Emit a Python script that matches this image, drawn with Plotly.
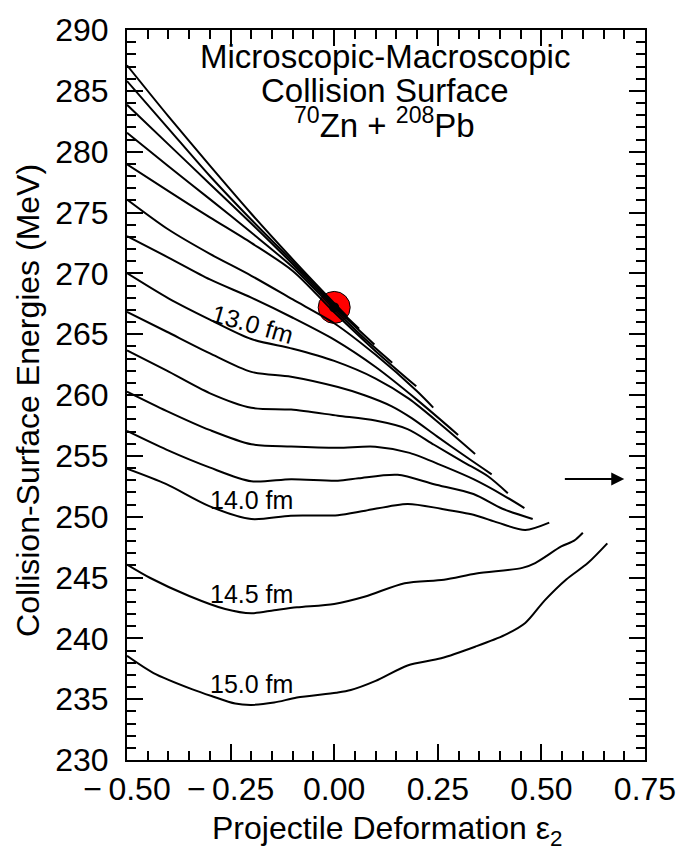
import plotly.graph_objects as go

# ---------------- data ----------------
# collision-surface energy curves: projectile deformation eps2 vs energy (MeV)
curve01_x = [-0.5, -0.4, -0.3, -0.2, -0.1, 0.0, 0.03]
curve01_E = [287.1, 282.9, 278.85, 274.9, 271.15, 267.55, 266.5]
curve02_x = [-0.5, -0.4, -0.3, -0.2, -0.1, 0.0, 0.06]
curve02_E = [285.8, 281.9, 278.0, 274.4, 270.95, 267.4, 265.45]
curve03_x = [-0.5, -0.4, -0.3, -0.2, -0.1, 0.0, 0.097]
curve03_E = [283.85, 280.6, 277.35, 274.1, 270.75, 267.25, 264.15]
curve04_x = [-0.5, -0.4, -0.3, -0.2, -0.1, 0.0, 0.07, 0.14]
curve04_E = [281.55, 278.8, 276.1, 273.35, 270.5, 267.05, 264.75, 262.66]
curve05_x = [-0.5, -0.4, -0.3, -0.2, -0.1, 0.0, 0.1, 0.198]
curve05_E = [278.96, 276.75, 274.6, 272.5, 270.2, 266.8, 263.6, 260.71]
curve06_x = [-0.5, -0.4, -0.3, -0.2, -0.1, 0.0, 0.1, 0.2, 0.239]
curve06_E = [276.07, 273.6, 271.6, 269.8, 267.85, 265.9, 263.3, 260.3, 258.96]
curve07_x = [-0.5, -0.4, -0.3, -0.2, -0.1, 0.0, 0.1, 0.2, 0.299]
curve07_E = [273.05, 271.3, 269.5, 268.0, 266.35, 264.55, 262.3, 259.6, 256.72]
curve08_x = [-0.5, -0.4, -0.3, -0.2, -0.1, 0.0, 0.1, 0.18, 0.26, 0.34]
curve08_E = [270.02, 267.95, 266.2, 264.6, 263.8, 262.8, 261.35, 259.7, 257.5, 255.16]
curve09_x = [-0.5, -0.405, -0.301, -0.2, -0.104, 0.009, 0.075, 0.139, 0.187, 0.248, 0.319, 0.38]
curve09_E = [266.84, 265.22, 263.44, 261.9, 261.5, 260.65, 259.96, 259.07, 258.1, 256.6, 254.9, 253.48]
curve10_x = [-0.5, -0.405, -0.301, -0.2, -0.104, 0.009, 0.099, 0.177, 0.241, 0.312, 0.371, 0.419]
curve10_E = [263.66, 262.02, 260.16, 258.95, 258.8, 258.3, 257.9, 257.2, 255.91, 254.49, 253.32, 251.93]
curve11_x = [-0.5, -0.405, -0.301, -0.2, -0.104, 0.009, 0.099, 0.182, 0.265, 0.336, 0.407, 0.459]
curve11_E = [260.28, 258.7, 257.13, 255.95, 255.77, 255.67, 255.75, 255.24, 254.13, 253.08, 251.78, 250.71]
curve12_x = [-0.5, -0.405, -0.301, -0.2, -0.104, 0.009, 0.059, 0.153, 0.241, 0.336, 0.406, 0.479]
curve12_E = [257.04, 255.51, 254.05, 252.91, 253.08, 252.96, 253.16, 253.44, 252.67, 251.86, 250.65, 249.81]
curve13_x = [-0.5, -0.405, -0.303, -0.2, -0.105, 0.009, 0.075, 0.177, 0.258, 0.336, 0.395, 0.461, 0.519]
curve13_E = [253.94, 252.67, 250.89, 249.8, 250.08, 250.12, 250.49, 251.05, 250.65, 250.16, 249.51, 248.91, 249.51]
curve14_x = [-0.5, -0.445, -0.35, -0.263, -0.2, -0.145, -0.09, 0.0, 0.075, 0.17, 0.265, 0.343, 0.454, 0.485, 0.548, 0.579, 0.6]
curve14_E = [246.06, 244.98, 243.48, 242.41, 242.06, 242.31, 242.55, 242.83, 243.44, 244.53, 244.82, 245.33, 245.79, 246.19, 247.55, 248.03, 248.68]
curve15_x = [-0.5, -0.436, -0.342, -0.296, -0.239, -0.2, -0.145, -0.09, 0.005, 0.04, 0.1, 0.177, 0.258, 0.34, 0.411, 0.461, 0.508, 0.56, 0.612, 0.659]
curve15_E = [238.56, 237.15, 235.81, 235.26, 234.64, 234.53, 234.72, 235.13, 235.53, 235.75, 236.5, 237.77, 238.36, 239.31, 240.26, 241.26, 243.12, 244.84, 246.19, 247.81]

curves = [
    (curve01_x, curve01_E), (curve02_x, curve02_E), (curve03_x, curve03_E),
    (curve04_x, curve04_E), (curve05_x, curve05_E), (curve06_x, curve06_E),
    (curve07_x, curve07_E), (curve08_x, curve08_E), (curve09_x, curve09_E),
    (curve10_x, curve10_E), (curve11_x, curve11_E), (curve12_x, curve12_E),
    (curve13_x, curve13_E), (curve14_x, curve14_E), (curve15_x, curve15_E),
]

# distance labels on curves
label_text = ["13.0 fm", "14.0 fm", "14.5 fm", "15.0 fm"]
label_x = [-0.197, -0.199, -0.20, -0.20]
label_E = [265.85, 251.35, 243.63, 236.21]
label_angle = [16, 0, 0, 0]

# highlighted point (red circle)
point_x = [0.0]
point_E = [267.2]

# arrow
arrow_x = [0.553, 0.70]
arrow_E = 253.1

# axes ticks
x_tickvals = [-0.5, -0.25, 0.0, 0.25, 0.5, 0.75]
x_ticktext = ["\u2212\u20090.50", "\u2212\u20090.25", "0.00", "0.25", "0.50", "0.75"]
y_tickvals = [230, 235, 240, 245, 250, 255, 260, 265, 270, 275, 280, 285, 290]
y_ticktext = [str(v) for v in y_tickvals]

FONT = "Liberation Sans, Arial, Helvetica, sans-serif"

fig = go.Figure()

# red circle underneath the curves
fig.add_trace(go.Scatter(
    x=point_x, y=point_E, mode="markers",
    marker=dict(size=32, color="#ff0000", line=dict(color="black", width=1)),
    hoverinfo="skip"))

for cx, cy in curves:
    fig.add_trace(go.Scatter(
        x=cx, y=cy, mode="lines",
        line=dict(color="black", width=2, shape="spline", smoothing=0.8),
        hoverinfo="skip"))

# black dot on top
fig.add_trace(go.Scatter(
    x=point_x, y=point_E, mode="markers",
    marker=dict(size=10, color="black"), hoverinfo="skip"))

annotations = []
for t, lx, ly, ang in zip(label_text, label_x, label_E, label_angle):
    annotations.append(dict(x=lx, y=ly, xref="x", yref="y", text=t, showarrow=False,
                            textangle=ang, font=dict(size=25, color="black", family=FONT),
                            xanchor="center", yanchor="middle"))

# title block
title_lines = ["Microscopic-Macroscopic", "Collision Surface",
               "<sup>70</sup>Zn + <sup>208</sup>Pb"]
title_y = [0.9635, 0.9165, 0.872]
for t, ty in zip(title_lines, title_y):
    annotations.append(dict(x=0.498, y=ty, xref="paper", yref="paper", text=t,
                            showarrow=False, xanchor="center", yanchor="middle",
                            font=dict(size=33, color="black", family=FONT)))

# axis titles
annotations.append(dict(x=-0.19, y=0.4926, xref="paper", yref="paper",
                        text="Collision-Surface Energies (MeV)", textangle=-90,
                        showarrow=False, xanchor="center", yanchor="middle",
                        font=dict(size=32, color="black", family=FONT)))
annotations.append(dict(x=0.501, y=-0.097, xref="paper", yref="paper",
                        text="Projectile Deformation \u03b5<sub>2</sub>",
                        showarrow=False, xanchor="center", yanchor="middle",
                        font=dict(size=32, color="black", family=FONT)))

# arrow
annotations.append(dict(x=arrow_x[1], y=arrow_E, ax=arrow_x[0], ay=arrow_E,
                        xref="x", yref="y", axref="x", ayref="y", text="",
                        showarrow=True, arrowhead=2, arrowsize=1.3, arrowwidth=2,
                        arrowcolor="black"))

axis_common = dict(
    showline=True, linecolor="black", linewidth=2, mirror="allticks",
    ticks="inside", ticklen=16, tickwidth=2, tickcolor="black",
    showgrid=False, zeroline=False,
    tickfont=dict(size=32, color="black", family=FONT),
)

fig.update_layout(
    width=688, height=852,
    margin=dict(l=127, r=33, t=19, b=92),
    paper_bgcolor="white", plot_bgcolor="white",
    showlegend=False,
    font=dict(family=FONT, color="black"),
    annotations=annotations,
    xaxis=dict(range=[-0.5, 0.75], tickmode="array", tickvals=x_tickvals,
               ticktext=x_ticktext, ticklabelstandoff=0,
               minor=dict(tick0=-0.5, dtick=0.05, ticks="inside", ticklen=9,
                          tickwidth=2, tickcolor="black", showgrid=False),
               **axis_common),
    yaxis=dict(range=[230, 290], tickmode="array", tickvals=y_tickvals,
               ticktext=y_ticktext, ticklabelstandoff=10,
               minor=dict(tick0=230, dtick=1, ticks="inside", ticklen=9,
                          tickwidth=2, tickcolor="black", showgrid=False),
               **axis_common),
)

fig.write_html("out.html")
